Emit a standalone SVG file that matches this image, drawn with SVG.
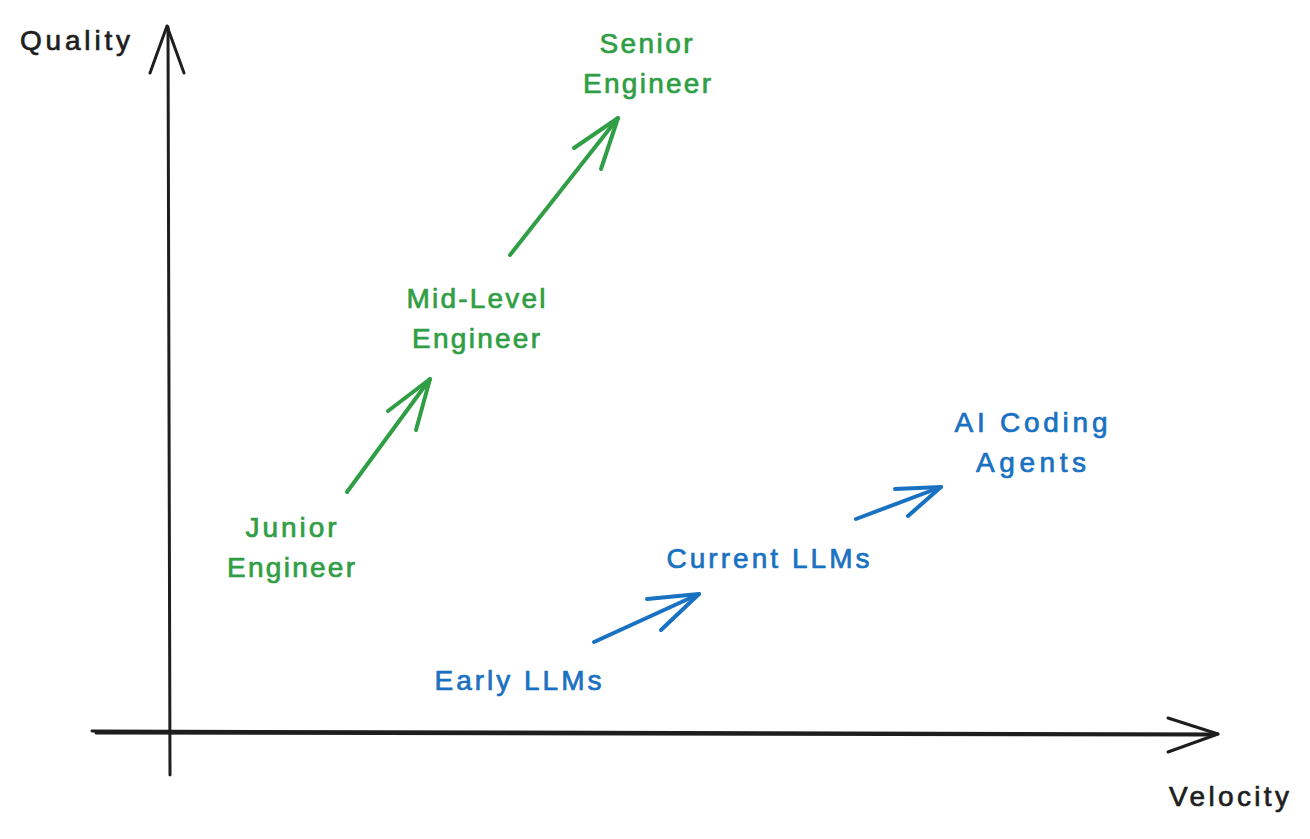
<svg xmlns="http://www.w3.org/2000/svg" width="1310" height="839" viewBox="0 0 1310 839">
<style>
.t{font-family:"Liberation Sans","Noto Sans",sans-serif;font-size:28px;text-anchor:middle;stroke-width:0.7;stroke-linejoin:round}
.g{fill:#2f9e44;stroke:#2f9e44}
.b{fill:#1971c2;stroke:#1971c2}
.k{fill:#1e1e1e;stroke:#1e1e1e}
.ax{fill:none;stroke:#1e1e1e;stroke-width:3;stroke-linecap:round;stroke-linejoin:round}
.ga{fill:none;stroke:#2f9e44;stroke-width:4;stroke-linecap:round;stroke-linejoin:round}
.ba{fill:none;stroke:#1971c2;stroke-width:4;stroke-linecap:round;stroke-linejoin:round}
</style>
<rect width="1310" height="839" fill="#ffffff"/>
<g id="connectors">
<g id="y-axis">
<path class="ax" d="M170 775 L168 27"/>
<path class="ax" d="M150 73 L167 26 L184 73"/>
</g>
<g id="x-axis">
<path class="ax" d="M92 731 L1218 734"/>
<path class="ax" d="M96 733 L1214 735" stroke-width="1.4"/>
<path class="ax" d="M1168 718 L1218 734 L1168 752"/>
</g>
<g id="junior-to-mid">
<path class="ga" d="M347 492 L430 379"/>
<path class="ga" d="M388 411 L430 379 L416 430"/>
</g>
<g id="mid-to-senior">
<path class="ga" d="M510 255 L618 118"/>
<path class="ga" d="M574 148 L618 118 L601 169"/>
</g>
<g id="early-to-current">
<path class="ba" d="M594 642 L699 594"/>
<path class="ba" d="M647 599 L699 594 L661 630"/>
</g>
<g id="current-to-agents">
<path class="ba" d="M856 519 L941 487"/>
<path class="ba" d="M895 489 L941 487 L908 516"/>
</g>
</g>
<g id="quality-label"><text class="t k" x="75" y="50" textLength="110">Quality</text></g>
<g id="velocity-label"><text class="t k" x="1229" y="806" textLength="120">Velocity</text></g>
<g id="senior-engineer">
<text class="t g" x="646" y="53" textLength="93">Senior</text>
<text class="t g" x="647" y="93" textLength="128">Engineer</text>
</g>
<g id="mid-level-engineer">
<text class="t g" x="476" y="308" textLength="139">Mid-Level</text>
<text class="t g" x="476" y="348" textLength="128">Engineer</text>
</g>
<g id="junior-engineer">
<text class="t g" x="291" y="537" textLength="91">Junior</text>
<text class="t g" x="291" y="577" textLength="128">Engineer</text>
</g>
<g id="early-llms">
<text class="t b" x="518" y="690" textLength="167">Early LLMs</text>
</g>
<g id="current-llms">
<text class="t b" x="768" y="568" textLength="203">Current LLMs</text>
</g>
<g id="ai-coding-agents">
<text class="t b" x="1031" y="432" textLength="153">AI Coding</text>
<text class="t b" x="1031" y="472" textLength="110">Agents</text>
</g>
</svg>
